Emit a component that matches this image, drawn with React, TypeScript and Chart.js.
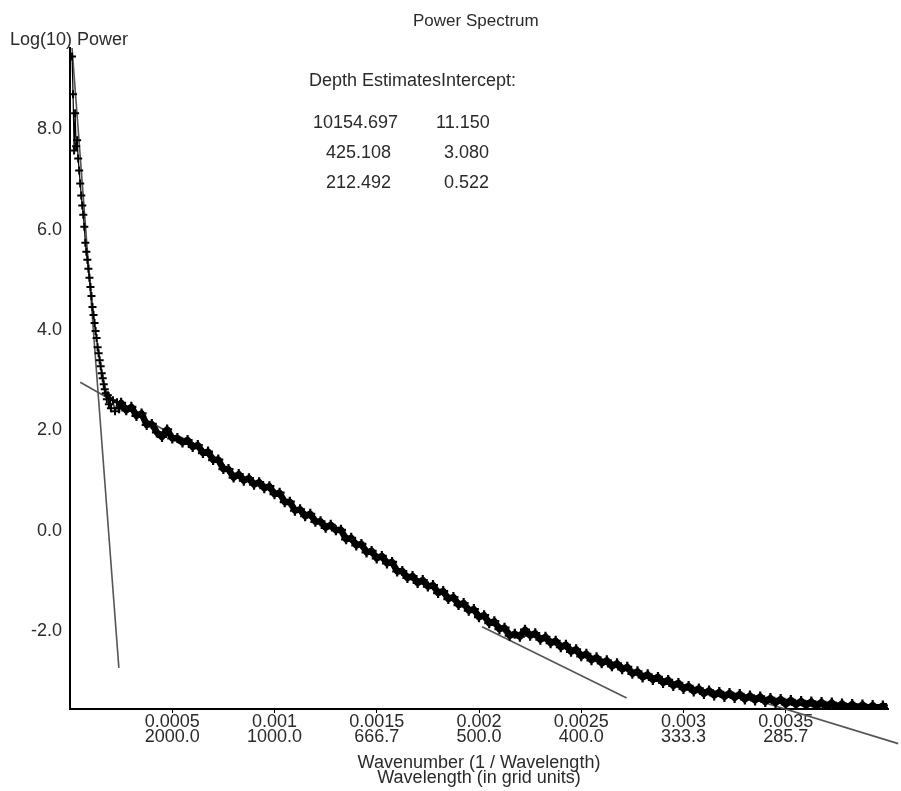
import { useEffect, useRef } from 'react';
import { Chart, registerables } from 'chart.js';

Chart.register(...registerables);

// Wavenumber (1 / wavelength) of each spectrum sample
const wavenumber = [
  0.00001, 0.000015, 0.00002, 0.000025, 0.00003, 0.000035, 0.00004, 0.000045, 0.00005, 0.000055,
  0.00006, 0.000065, 0.00007, 0.000075, 0.00008, 0.000085, 0.00009, 0.000095, 0.0001, 0.000105,
  0.00011, 0.000115, 0.00012, 0.000125, 0.00013, 0.000135, 0.00014, 0.000145, 0.00015, 0.000155,
  0.00016, 0.000165, 0.00017, 0.000175, 0.00018, 0.000185, 0.00019, 0.000195, 0.0002, 0.00021,
  0.00022, 0.00023, 0.00024,
  0.00025, 0.000275, 0.0003, 0.000325, 0.00035, 0.000375, 0.0004, 0.000425, 0.00045, 0.000475,
  0.0005, 0.000525, 0.00055, 0.000575, 0.0006, 0.000625, 0.00065, 0.000675, 0.0007, 0.000725,
  0.00075, 0.000775, 0.0008, 0.000825, 0.00085, 0.000875, 0.0009, 0.000925, 0.00095, 0.000975,
  0.001, 0.001025, 0.00105, 0.001075, 0.0011, 0.001125, 0.00115, 0.001175, 0.0012, 0.001225,
  0.00125, 0.001275, 0.0013, 0.001325, 0.00135, 0.001375, 0.0014, 0.001425, 0.00145, 0.001475,
  0.0015, 0.001525, 0.00155, 0.001575, 0.0016, 0.001625, 0.00165, 0.001675, 0.0017, 0.001725,
  0.00175, 0.001775, 0.0018, 0.001825, 0.00185, 0.001875, 0.0019, 0.001925, 0.00195, 0.001975,
  0.002, 0.002025, 0.00205, 0.002075, 0.0021, 0.002125, 0.00215, 0.002175, 0.0022, 0.002225,
  0.00225, 0.002275, 0.0023, 0.002325, 0.00235, 0.002375, 0.0024, 0.002425, 0.00245, 0.002475,
  0.0025, 0.002525, 0.00255, 0.002575, 0.0026, 0.002625, 0.00265, 0.002675, 0.0027, 0.002725,
  0.00275, 0.002775, 0.0028, 0.002825, 0.00285, 0.002875, 0.0029, 0.002925, 0.00295, 0.002975,
  0.003, 0.003025, 0.00305, 0.003075, 0.0031, 0.003125, 0.00315, 0.003175, 0.0032, 0.003225,
  0.00325, 0.003275, 0.0033, 0.003325, 0.00335, 0.003375, 0.0034, 0.003425, 0.00345, 0.003475,
  0.0035, 0.003525, 0.00355, 0.003575, 0.0036, 0.003625, 0.00365, 0.003675, 0.0037, 0.003725,
  0.00375, 0.003775, 0.0038, 0.003825, 0.00385, 0.003875, 0.0039, 0.003925, 0.00395, 0.003975,
  0.00399,
];

// Log(10) power of each sample
const logPower = [
  9.45, 8.7, 7.58, 8.32, 7.66, 7.78, 7.42, 7.18, 6.92, 6.68,
  6.48, 6.3, 6.06, 5.74, 5.56, 5.4, 5.22, 5.04, 4.86, 4.68,
  4.46, 4.3, 4.14, 3.98, 3.84, 3.66, 3.54, 3.4, 3.28, 3.14,
  3.04, 2.92, 2.82, 2.74, 2.62, 2.7, 2.52, 2.64, 2.44, 2.6,
  2.38, 2.56, 2.44,
  2.55, 2.4, 2.47, 2.29, 2.34, 2.11, 2.13, 1.96, 1.87, 2.02,
  1.84, 1.85, 1.76, 1.81, 1.67, 1.71, 1.55, 1.58, 1.41, 1.42,
  1.23, 1.23, 1.06, 1.13, 1.0, 1.05, 0.92, 0.97, 0.85, 0.89,
  0.73, 0.76, 0.57, 0.58, 0.4, 0.43, 0.29, 0.34, 0.18, 0.19,
  0.06, 0.12, 0.01, 0.02, -0.17, -0.14, -0.29, -0.26, -0.43, -0.4,
  -0.55, -0.5, -0.65, -0.62, -0.81, -0.8, -0.94, -0.9, -1.04, -0.98,
  -1.11, -1.08, -1.24, -1.2, -1.36, -1.32, -1.48, -1.44, -1.59, -1.56,
  -1.72, -1.68, -1.84, -1.8, -1.96, -1.93, -2.09, -2.05, -2.11, -1.97,
  -2.09, -2.04, -2.17, -2.11, -2.24, -2.19, -2.32, -2.27, -2.41, -2.36,
  -2.5, -2.45, -2.58, -2.52, -2.64, -2.58, -2.7, -2.64, -2.76, -2.71,
  -2.85, -2.8, -2.92, -2.86, -2.97, -2.91, -3.03, -2.97, -3.09, -3.03,
  -3.15, -3.09, -3.2, -3.14, -3.25, -3.18, -3.28, -3.21, -3.31, -3.23,
  -3.33, -3.25, -3.36, -3.28, -3.38, -3.3, -3.41, -3.33, -3.43, -3.35,
  -3.46, -3.37, -3.47, -3.39, -3.48, -3.4, -3.5, -3.41, -3.51, -3.42,
  -3.52, -3.44, -3.53, -3.45, -3.54, -3.46, -3.55, -3.47, -3.55, -3.48,
  -3.53,
];

// Number of samples in the steep low-wavenumber part of the spectrum
const steepCount = 43;

// Fitted straight line segments: [x0, y0, x1, y1]
const fitLine1 = [0.00001, 9.62, 0.000239, -2.73];
const fitLine2 = [0.00005, 2.96, 0.0005, 1.92];
const fitLine3 = [0.002015, -1.91, 0.002722, -3.33];
const fitLine4 = [0.00325, -3.24, 0.00405, -4.24];

const xTickValues = [0.0005, 0.001, 0.0015, 0.002, 0.0025, 0.003, 0.0035];
const xTickWavenumber = ['0.0005', '0.001', '0.0015', '0.002', '0.0025', '0.003', '0.0035'];
const xTickWavelength = ['2000.0', '1000.0', '666.7', '500.0', '400.0', '333.3', '285.7'];
const yTickValues = [-2, 0, 2, 4, 6, 8];
const yTickLabels = ['-2.0', '0.0', '2.0', '4.0', '6.0', '8.0'];

const depthEstimates = ['10154.697', '425.108', '212.492'];
const intercepts = ['11.150', '3.080', '0.522'];

const FONT = '"Liberation Sans", Arial, Helvetica, sans-serif';
const TEXT = '#2a2a2a';

const seg = (s: number[]) => [
  { x: s[0], y: s[1] },
  { x: s[2], y: s[3] },
];

const points = wavenumber.map((x, i) => ({ x, y: logPower[i] }));

const textPlugin = {
  id: 'spectrumText',
  afterDraw(chart: any) {
    const ctx = chart.ctx;
    ctx.save();
    ctx.fillStyle = TEXT;
    ctx.textBaseline = 'alphabetic';
    ctx.textAlign = 'left';
    ctx.font = `17px ${FONT}`;
    ctx.fillText('Power Spectrum', 413, 26);
    ctx.font = `18px ${FONT}`;
    ctx.fillText('Log(10) Power', 10, 45);
    ctx.fillText('Depth Estimates', 309, 86);
    ctx.fillText('Intercept:', 441, 86);
    const rowY = [128, 158, 188];
    const depthX = [313, 326, 326];
    const intX = [436, 444, 444];
    depthEstimates.forEach((d, i) => ctx.fillText(d, depthX[i], rowY[i]));
    intercepts.forEach((d, i) => ctx.fillText(d, intX[i], rowY[i]));
    ctx.restore();
  },
};

export default function App() {
  const ref = useRef<HTMLCanvasElement | null>(null);

  useEffect(() => {
    if (!ref.current) return;
    const lineStyle = {
      showLine: true,
      borderColor: '#555555',
      borderWidth: 1.6,
      pointRadius: 0,
      pointHoverRadius: 0,
      clip: false as const,
      order: 3,
    };
    const chart = new Chart(ref.current, {
      type: 'scatter',
      data: {
        datasets: [
          {
            label: 'Spectrum (low wavenumber)',
            data: points.slice(0, steepCount),
            showLine: true,
            borderColor: '#000000',
            borderWidth: 1.2,
            pointStyle: 'cross',
            pointRadius: 4,
            pointBorderWidth: 2,
            pointBorderColor: '#000000',
            order: 1,
          },
          {
            label: 'Spectrum',
            data: points.slice(steepCount - 1),
            showLine: true,
            borderColor: '#000000',
            borderWidth: 6.5,
            borderJoinStyle: 'round',
            pointStyle: 'cross',
            pointRadius: 5,
            pointBorderWidth: 2.2,
            pointBorderColor: '#000000',
            order: 2,
          },
          { label: 'Fit 1', data: seg(fitLine1), ...lineStyle },
          { label: 'Fit 2', data: seg(fitLine2), ...lineStyle },
          { label: 'Fit 3', data: seg(fitLine3), ...lineStyle },
          { label: 'Fit 4', data: seg(fitLine4), ...lineStyle },
        ] as any,
      },
      options: {
        animation: false,
        responsive: false,
        devicePixelRatio: 1,
        layout: { padding: { left: 0, top: 48, right: 13, bottom: 0 } },
        plugins: {
          legend: { display: false },
          tooltip: { enabled: false },
          title: { display: false },
        },
        scales: {
          x: {
            type: 'linear',
            min: 0,
            max: 0.004,
            afterFit: (s: any) => {
              s.height = 82;
            },
            afterBuildTicks: (s: any) => {
              s.ticks = xTickValues.map((v) => ({ value: v }));
            },
            grid: {
              display: true,
              drawOnChartArea: false,
              drawTicks: true,
              tickLength: 4,
              color: '#000000',
              lineWidth: 1,
            },
            border: { display: true, color: '#000000', width: 2 },
            ticks: {
              padding: 2,
              color: TEXT,
              maxRotation: 0,
              autoSkip: false,
              font: { family: FONT, size: 18, lineHeight: 0.83 },
              callback: (v: any) => {
                const i = xTickValues.indexOf(Number(v));
                return i >= 0 ? [xTickWavenumber[i], xTickWavelength[i]] : '';
              },
            },
            title: {
              display: true,
              text: ['Wavenumber (1 / Wavelength)', 'Wavelength (in grid units)'],
              color: TEXT,
              font: { family: FONT, size: 18, lineHeight: 0.84 },
              padding: { top: 0, bottom: 5 },
            },
          },
          y: {
            type: 'linear',
            min: -3.55,
            max: 9.62,
            afterFit: (s: any) => {
              s.width = 70;
            },
            afterBuildTicks: (s: any) => {
              s.ticks = yTickValues.map((v) => ({ value: v }));
            },
            grid: { display: false, drawTicks: false },
            border: { display: true, color: '#000000', width: 2 },
            ticks: {
              padding: 8,
              color: TEXT,
              font: { family: FONT, size: 18 },
              callback: (v: any) => {
                const i = yTickValues.indexOf(Number(v));
                return i >= 0 ? yTickLabels[i] : '';
              },
            },
          },
        },
      } as any,
      plugins: [textPlugin],
    });
    return () => chart.destroy();
  }, []);

  return (
    <div style={{ position: 'fixed', left: 0, top: 0, width: 901, height: 791, background: '#ffffff' }}>
      <canvas ref={ref} width={901} height={791} style={{ display: 'block', width: 901, height: 791 }} />
    </div>
  );
}
